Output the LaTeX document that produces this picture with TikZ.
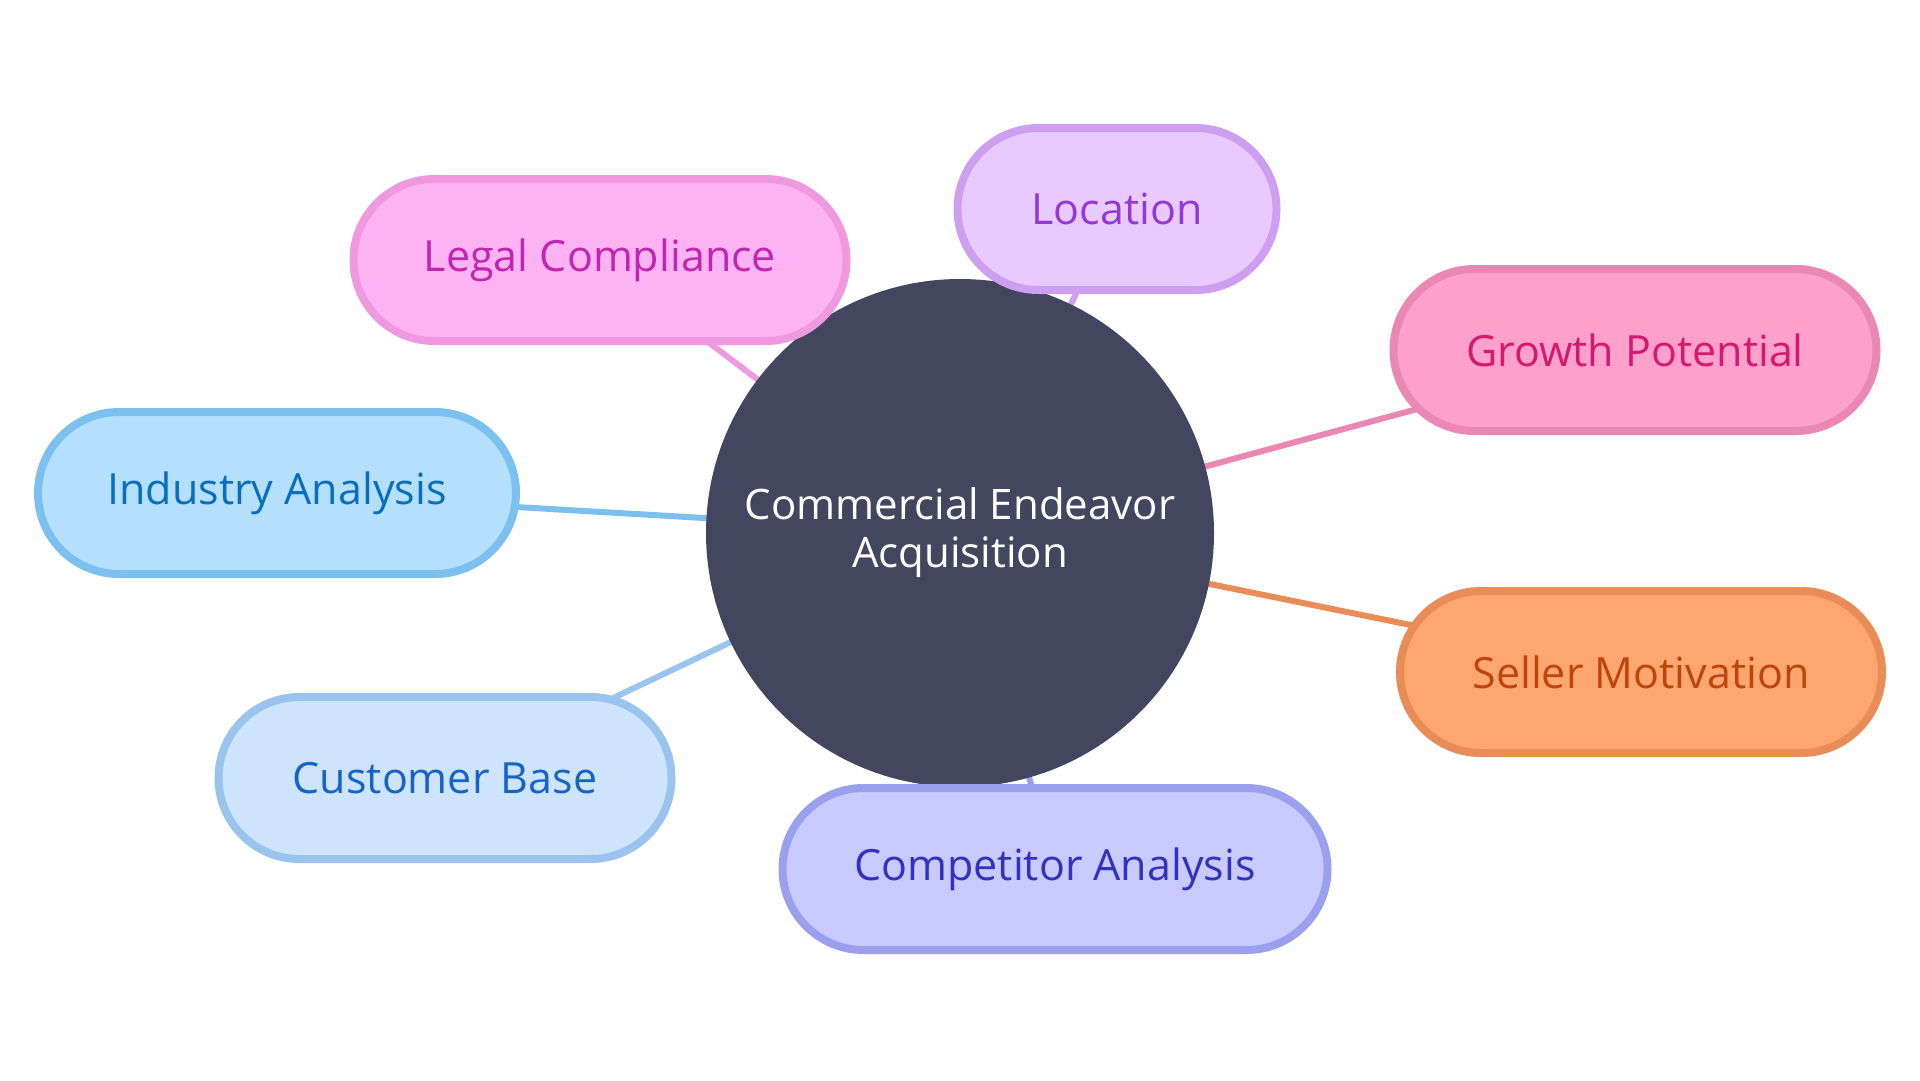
\documentclass[tikz,border=0pt]{standalone}
\usepackage{fontspec}
\setmainfont{Open Sans}
\usetikzlibrary{shapes.misc,backgrounds}

\definecolor{hubfill}{RGB}{66,70,94}
\definecolor{legalfill}{RGB}{253,178,243}
\definecolor{legaldraw}{RGB}{241,153,224}
\definecolor{legaltext}{RGB}{192,38,176}
\definecolor{locfill}{RGB}{232,202,254}
\definecolor{locdraw}{RGB}{206,158,240}
\definecolor{loctext}{RGB}{148,56,214}
\definecolor{growfill}{RGB}{253,160,203}
\definecolor{growdraw}{RGB}{234,135,180}
\definecolor{growtext}{RGB}{212,25,110}
\definecolor{indfill}{RGB}{180,224,254}
\definecolor{inddraw}{RGB}{124,192,240}
\definecolor{indtext}{RGB}{10,110,190}
\definecolor{sellfill}{RGB}{253,166,112}
\definecolor{selldraw}{RGB}{234,140,88}
\definecolor{selltext}{RGB}{190,70,10}
\definecolor{custfill}{RGB}{206,228,252}
\definecolor{custdraw}{RGB}{154,196,238}
\definecolor{custtext}{RGB}{22,100,200}
\definecolor{compfill}{RGB}{200,202,254}
\definecolor{compdraw}{RGB}{154,160,238}
\definecolor{comptext}{RGB}{50,50,190}

\begin{document}
\begin{tikzpicture}[x=1pt,y=-1pt,
    topic/.style={rounded rectangle, line width=8pt, minimum height=162pt,
        inner sep=0pt, font=\fontsize{43}{48}\selectfont},
    link/.style={line width=6pt}]

    \useasboundingbox (0,0) rectangle (1920,1080);

    % central topic
    \node[circle, fill=hubfill, minimum size=508pt, text=white, align=center,
        font=\fontsize{42}{48}\selectfont] (hub) at (960,533) {Commercial Endeavor\\Acquisition};

    % sub-topics, clockwise from the top
    \node[topic, draw=locdraw, fill=locfill, text=loctext, minimum width=319pt] (location) at (1117,209) {Location};
    \node[topic, draw=growdraw, fill=growfill, text=growtext, minimum width=483pt] (growth) at (1635,350) {Growth Potential};
    \node[topic, draw=selldraw, fill=sellfill, text=selltext, minimum width=482pt] (seller) at (1641,672) {Seller Motivation};
    \node[topic, draw=compdraw, fill=compfill, text=comptext, minimum width=545pt] (competitor) at (1055,869) {Competitor Analysis};
    \node[topic, draw=custdraw, fill=custfill, text=custtext, minimum width=453pt] (customer) at (445,778) {Customer Base};
    \node[topic, draw=inddraw, fill=indfill, text=indtext, minimum width=478pt] (industry) at (277,493) {Industry Analysis};
    \node[topic, draw=legaldraw, fill=legalfill, text=legaltext, minimum width=493pt] (legal) at (600,260) {Legal Compliance};

    % links behind the nodes
    \begin{scope}[on background layer]
        \draw[link, locdraw] (hub.center) -- (location.center);
        \draw[link, growdraw] (hub.center) -- (growth.center);
        \draw[link, selldraw] (hub.center) -- (seller.center);
        \draw[link, compdraw] (hub.center) -- (competitor.center);
        \draw[link, custdraw] (hub.center) -- (customer.center);
        \draw[link, inddraw] (hub.center) -- (industry.center);
        \draw[link, legaldraw] (hub.center) -- (legal.center);
    \end{scope}

\end{tikzpicture}
\end{document}
